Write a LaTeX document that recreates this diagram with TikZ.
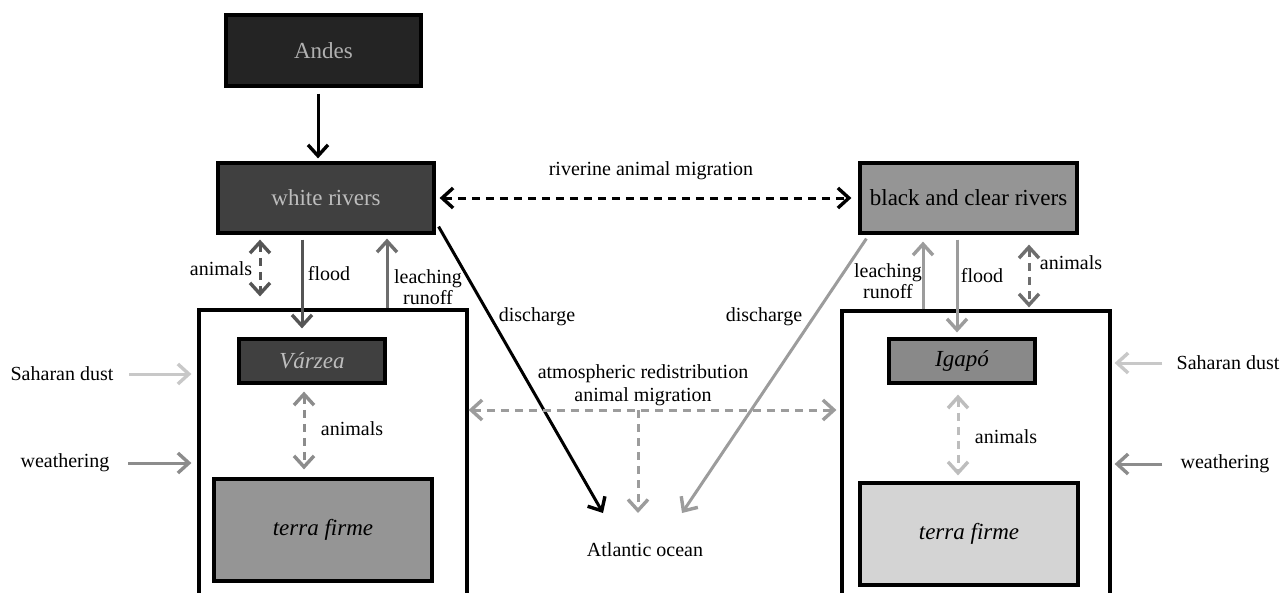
\documentclass[tikz,border=0pt]{standalone}
\usepackage{fontspec}
\setmainfont{Liberation Serif}
\usetikzlibrary{arrows.meta}
\definecolor{andesfill}{HTML}{242424}
\definecolor{darkfill}{HTML}{404040}
\definecolor{midfill}{HTML}{959595}
\definecolor{lightfill}{HTML}{D4D4D4}
\definecolor{lighttext}{HTML}{BDBDBD}
\definecolor{gA}{HTML}{555555}
\definecolor{gB}{HTML}{6E6E6E}
\definecolor{gC}{HTML}{8C8C8C}
\definecolor{gD}{HTML}{9C9C9C}
\definecolor{gE}{HTML}{BDBDBD}
\definecolor{gF}{HTML}{C8C8C8}
\tikzset{
  boxnode/.style={draw=black, line width=3.2pt, rectangle, inner sep=0pt,
    font=\fontsize{23}{26}\selectfont},
  lbl/.style={inner sep=0pt, align=center, font=\fontsize{20}{22}\selectfont},
  flow/.style={line width=3pt, -{Straight Barb[length=11pt,width=20pt,line width=3.4pt]}},
  biflow/.style={line width=3pt, {Straight Barb[length=11pt,width=20pt,line width=3.4pt]}-{Straight Barb[length=11pt,width=20pt,line width=3.4pt]}},
  dashes/.style={dash pattern=on 8pt off 6pt},
}
\begin{document}
\begin{tikzpicture}[x=1pt,y=-1pt]
\useasboundingbox (0,0) rectangle (1282,592);
\clip (0,0) rectangle (1282,592);
% boxes
\node[boxnode, fill=andesfill, text=lighttext!120, minimum width=195pt, minimum height=71pt] (andes) at (323.5,50.5) {Andes};
\node[boxnode, fill=darkfill, text=lighttext, minimum width=216pt, minimum height=70pt] (wr) at (326,198) {white rivers};
\node[boxnode, fill=midfill, text=black, minimum width=217pt, minimum height=70pt] (bcr) at (968.5,198) {black and clear rivers};
\node[boxnode, fill=white, minimum width=268pt, minimum height=330pt] (lbox) at (333,475) {};
\node[boxnode, fill=white, minimum width=268pt, minimum height=330pt] (rbox) at (976,476) {};
\node[boxnode, fill=darkfill, text=lighttext, minimum width=146pt, minimum height=44pt, font=\fontsize{23}{26}\selectfont\itshape] (varzea) at (312,361) {Várzea};
\node[boxnode, fill=midfill, text=black, minimum width=218pt, minimum height=102pt, font=\fontsize{23}{26}\selectfont\itshape] (tfL) at (323,530) {terra firme};
\node[boxnode, fill=midfill!92!black, text=black, minimum width=146pt, minimum height=44pt, font=\fontsize{23}{26}\selectfont\itshape] (igapo) at (962,361) {Igapó};
\node[boxnode, fill=lightfill, text=black, minimum width=218pt, minimum height=102pt, font=\fontsize{23}{26}\selectfont\itshape] (tfR) at (969,534) {terra firme};
% labels
\node[lbl] (riv) at (651,171) {riverine animal migration};
\node[lbl] (anLt) at (221,269) {animals};
\node[lbl] (flL) at (329,274) {flood};
\node[lbl, font=\fontsize{20}{21}\selectfont] (leL) at (428,287) {leaching\\runoff};
\node[lbl] (dsL) at (537,317) {discharge};
\node[lbl] (dsR) at (764,317) {discharge};
\node[lbl] (sahL) at (62,374) {Saharan dust};
\node[lbl] (weaL) at (65,463) {weathering};
\node[lbl] (anLm) at (352,429) {animals};
\node[lbl, font=\fontsize{20}{23}\selectfont] (atm) at (643,385) {atmospheric redistribution\\animal migration};
\node[lbl] (ocean) at (645,550) {Atlantic ocean};
\node[lbl, font=\fontsize{20}{21}\selectfont] (leR) at (888,281) {leaching\\runoff};
\node[lbl] (flR) at (982,276) {flood};
\node[lbl] (anRt) at (1071,263) {animals};
\node[lbl] (sahR) at (1228,363) {Saharan dust};
\node[lbl] (weaR) at (1225,464) {weathering};
\node[lbl] (anRm) at (1006,437) {animals};
% free ends at the ocean
\coordinate (ocL) at (603,513);
\coordinate (ocM) at (638,513);
\coordinate (ocR) at (682,513);
\coordinate (atmc) at (638,410);
% connectors
\draw[flow, black] ([xshift=-5.5pt,yshift=-6pt]andes.south) -- ([xshift=-8pt,yshift=3pt]wr.north);
\draw[biflow, black, dashes] ([xshift=4pt]wr.east) -- ([xshift=-7pt]bcr.west);
% left side
\draw[biflow, gA, dashes] ([xshift=-66pt,yshift=-5pt]wr.south) -- ([xshift=-73pt,yshift=12pt]lbox.north);
\draw[flow, gA] ([xshift=-24pt,yshift=-5pt]wr.south) -- ([xshift=-10pt,yshift=9pt]varzea.north);
\draw[flow, gB] ([xshift=54pt]lbox.north) -- ([xshift=61pt,yshift=-4pt]wr.south);
\draw[flow, black] ([xshift=3pt,yshift=8pt]wr.south east) -- (ocL);
\draw[flow, gF] ([xshift=15.5pt]sahL.east) -- ([xshift=-6pt]sahL.east -| lbox.west);
\draw[flow, gC] ([xshift=18.5pt]weaL.east) -- ([xshift=-6pt]weaL.east -| lbox.west);
\draw[biflow, gC, dashes] ([xshift=-8pt,yshift=-7pt]varzea.south) -- ([xshift=-19pt,yshift=8pt]tfL.north);
% centre
\draw[biflow, gD, dashes] (atmc -| lbox.east) -- ([xshift=-4pt]atmc -| rbox.west);
\draw[flow, gD, dashes] (atmc) -- (ocM);
\draw[flow, gD] ([xshift=8pt,yshift=-4pt]bcr.south west) -- (ocR);
% right side
\draw[flow, gD] ([xshift=-53pt]rbox.north) -- ([xshift=-45.5pt,yshift=-7pt]bcr.south);
\draw[flow, gD] ([xshift=-11.5pt,yshift=-5pt]bcr.south) -- ([xshift=-5pt,yshift=5pt]igapo.north);
\draw[biflow, gB, dashes] ([xshift=60.5pt,yshift=-10pt]bcr.south) -- ([xshift=53pt,yshift=2pt]rbox.north);
\draw[flow, gF] ([xshift=-14pt]sahR.west) -- ([xshift=3pt]sahR.west -| rbox.east);
\draw[flow, gC] ([xshift=-18pt]weaR.west) -- ([xshift=3pt]weaR.west -| rbox.east);
\draw[biflow, gE, dashes] ([xshift=-4pt,yshift=-10pt]igapo.south) -- ([xshift=-11pt,yshift=6pt]tfR.north);
\end{tikzpicture}
\end{document}
